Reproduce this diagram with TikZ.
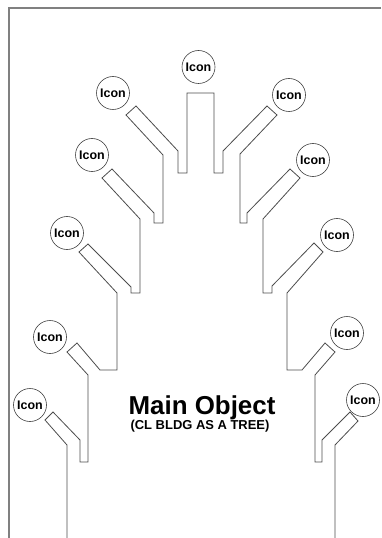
\documentclass[tikz,border=0pt]{standalone}
\usepackage{fontspec}
\setmainfont{Liberation Sans}
\begin{document}
\begin{tikzpicture}[x=1bp,y=-1bp,
  icon/.style={circle,draw=black!75,line width=0.6bp,minimum size=33bp,inner sep=0pt,font=\fontsize{12.5}{14}\selectfont\bfseries},
  outline/.style={draw=black!70,line width=0.8bp,line join=miter},
  frame/.style={draw=black!50,line width=1.2bp}]
\useasboundingbox (0,0) rectangle (381,538);
% frame
\draw[frame] (381,8) -- (9,8) -- (9,538);
% tree outline
\draw[outline] (67,538) -- (67,445) -- (45,420) -- (53,412) -- (80,440) -- (80,462) -- (88,462) -- (88,375)
  -- (67,352) -- (77,343) -- (100,370) -- (117,370) -- (117,293) -- (79,252) -- (88,244) -- (131,287)
  -- (131,293) -- (140,293) -- (140,219) -- (102,178) -- (112,169) -- (154,213) -- (154,223) -- (163,223)
  -- (163,155) -- (126,115) -- (136,106) -- (178,151) -- (178,173) -- (187,173) -- (187,93) -- (214,93)
  -- (214,173) -- (223,173) -- (223,151) -- (267,106) -- (277,115) -- (240,154) -- (240,223) -- (247,223)
  -- (247,213) -- (290,169) -- (300,178) -- (263,219) -- (263,293) -- (272,293) -- (272,286) -- (314,243)
  -- (323,252) -- (287,293) -- (287,370) -- (302,370) -- (325,343) -- (335,352) -- (315,375) -- (315,462)
  -- (322,462) -- (322,440) -- (350,412) -- (358,421) -- (335,445) -- (335,538);
% icons
\node[icon] (top) at (198.5,67) {Icon};
\node[icon] (l1) at (113,93) {Icon};
\node[icon] (l2) at (92,155) {Icon};
\node[icon] (l3) at (67,233) {Icon};
\node[icon] (l4) at (50,337) {Icon};
\node[icon] (l5) at (30,405) {Icon};
\node[icon] (r1) at (289,95) {Icon};
\node[icon] (r2) at (313,160) {Icon};
\node[icon] (r3) at (337,235) {Icon};
\node[icon] (r4) at (347,333) {Icon};
\node[icon] (r5) at (363,400) {Icon};
% title
\node[font=\fontsize{26}{28}\selectfont\bfseries,inner sep=0pt,anchor=base] (title) at (202,414) {Main Object};
\node[font=\fontsize{13}{15}\selectfont\bfseries,inner sep=0pt,anchor=base] (sub) at (200,429) {(CL BLDG AS A TREE)};
\end{tikzpicture}
\end{document}
